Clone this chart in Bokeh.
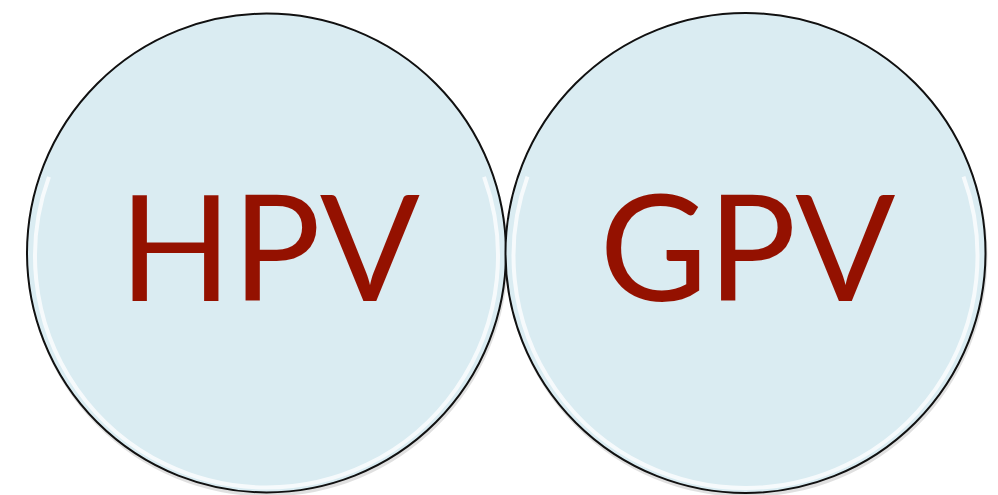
from bokeh.plotting import figure
from bokeh.models import Range1d
from bokeh.core.properties import value
from bokeh.embed import file_html
from bokeh.resources import INLINE
import numpy as np

labels = ["HPV", "GPV"]
center_x = [266, 745]
center_y = [252.5, 252.5]
radius = [239.5, 240]
label_x = [269, 747]
label_y = [243, 243]

W, H = 998, 495
p = figure(width=W, height=H, output_backend="svg", toolbar_location=None,
           x_range=Range1d(0, W), y_range=Range1d(H, 0),
           min_border=0, outline_line_color=None, background_fill_color="white",
           border_fill_color="white")
p.axis.visible = False
p.grid.visible = False

# soft shadow
p.circle(x=[c + 1 for c in center_x], y=[c + 3 for c in center_y], radius=[r + 1 for r in radius],
         fill_color="#000000", fill_alpha=0.12, line_color=None)
# disks
p.circle(x=center_x, y=center_y, radius=radius, fill_color="#DAECF2",
         line_color="#111111", line_width=2)
# glossy highlight ring (arc not covering the top)
for cx, cy, r in zip(center_x, center_y, radius):
    p.arc(x=[cx], y=[cy + 3], radius=[r - 8], start_angle=np.radians(-20) + np.pi,
          end_angle=np.radians(200) + np.pi, direction="anticlock",
          line_color="white", line_width=4, line_alpha=0.75)

p.text(x=label_x, y=label_y, text=labels, text_align="center", text_baseline="alphabetic",
       text_color="#941100", text_font=value("Lato"), text_font_size="148px")

open("out.html", "w").write(file_html(p, INLINE))
